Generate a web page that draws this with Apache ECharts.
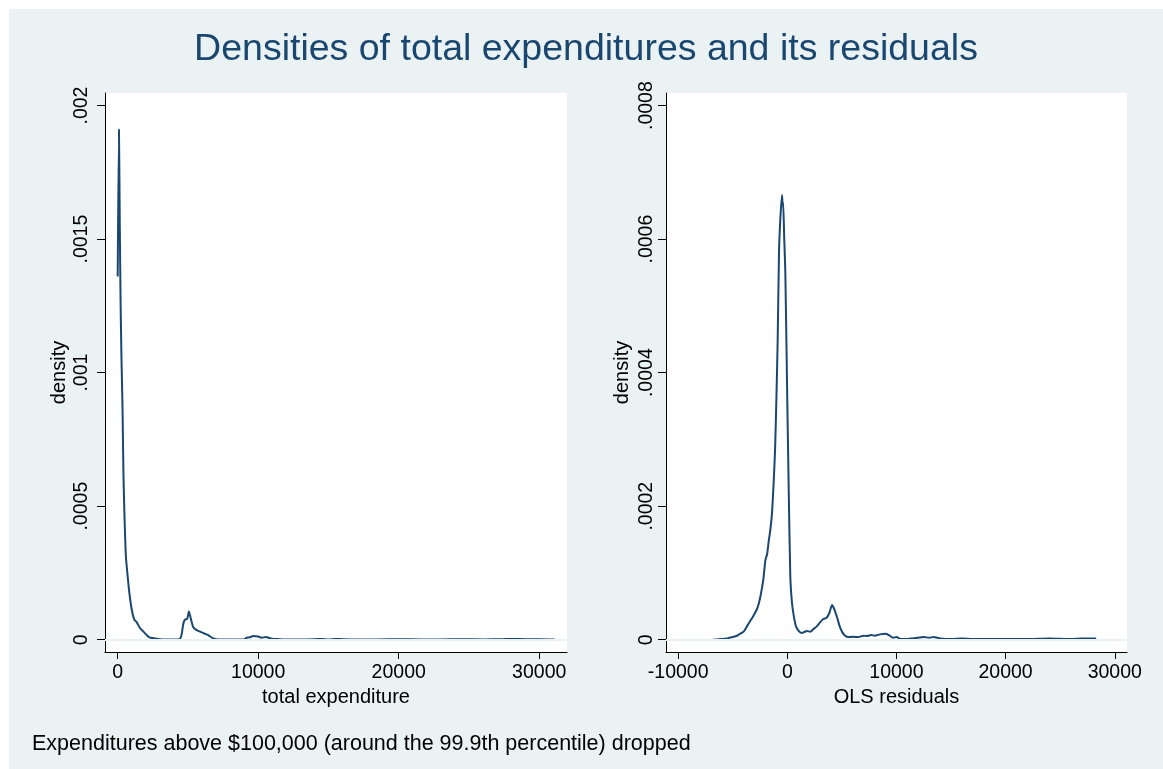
<!DOCTYPE html>
<html>
<head>
<meta charset="utf-8">
<script src="https://cdn.jsdelivr.net/npm/echarts@6/dist/echarts.min.js"></script>
<style>
  html, body { margin: 0; padding: 0; background: #ffffff; }
  #chart { position: absolute; left: 9px; top: 9px; width: 1154px; height: 760px; }
</style>
</head>
<body>
<div id="chart"></div>
<script>
// Kernel density of total expenditure: [expenditure, density]
const expenditureDensity = [
  [0, 0.00136], [90, 0.00191], [150, 0.00155], [210, 0.00125], [270, 0.00105],
  [340, 0.00088], [410, 0.00062], [480, 0.00047], [560, 0.00034], [600, 0.00030],
  [710, 0.000237], [830, 0.000175], [1000, 0.000112], [1180, 0.000075], [1350, 0.000066],
  [1580, 0.000044], [1820, 0.000031], [2050, 0.000018], [2250, 0.000009], [2650, 0.000005],
  [3000, 0.000002], [3500, 0.000001], [4000, 0.000001], [4400, 0.000002], [4550, 0.00002],
  [4670, 0.00006], [4790, 0.000075], [4950, 0.000078], [5070, 0.000106], [5190, 0.000082],
  [5380, 0.000047], [5660, 0.000035], [6090, 0.000025], [6440, 0.000017], [6800, 0.000005],
  [7200, 0.000001], [8000, 0.000001], [9000, 0.000001], [9170, 0.0000075], [9400, 0.000009],
  [9650, 0.000014], [10000, 0.000012], [10240, 0.0000075], [10550, 0.00001], [10950, 0.0000037],
  [11500, 0.000002], [12000, 0.000001], [13000, 0.000001], [14000, 0.000002], [14500, 0.000003],
  [15000, 0.000001], [15500, 0.000003], [16000, 0.000002], [17000, 0.000001], [18500, 0.000001],
  [20000, 0.000002], [21500, 0.000001], [23000, 0.000001], [24500, 0.000002], [26000, 0.000001],
  [27400, 0.000002], [28200, 0.000003], [29000, 0.000002], [30000, 0.000002], [31100, 0.000001]
];

// Kernel density of the OLS residuals: [residual, density]
const residualDensity = [
  [-6800, 0], [-6000, 0.000001], [-5500, 0.000002], [-5000, 0.000004], [-4600, 0.000006],
  [-4300, 0.000009], [-4000, 0.000012], [-3700, 0.00002], [-3400, 0.000028], [-3100, 0.000036],
  [-2800, 0.000045], [-2600, 0.000055], [-2400, 0.00007], [-2200, 0.00009], [-2000, 0.00012],
  [-1850, 0.000128], [-1700, 0.000148], [-1550, 0.000165], [-1400, 0.00019], [-1250, 0.000235],
  [-1120, 0.000285], [-1000, 0.00036], [-880, 0.00045], [-760, 0.00058], [-640, 0.00063],
  [-480, 0.000666], [-420, 0.00065], [-380, 0.000655], [-280, 0.0006], [-180, 0.00055],
  [-30, 0.00039], [120, 0.000234], [275, 0.000095], [430, 0.000055], [600, 0.000035],
  [800, 0.00002], [1100, 0.000012], [1350, 0.00001], [1600, 0.000012], [1800, 0.000013],
  [2100, 0.000012], [2400, 0.000016], [2700, 0.00002], [3000, 0.000026], [3300, 0.000031],
  [3600, 0.000033], [3850, 0.00004], [4100, 0.000052], [4300, 0.000046], [4550, 0.000034],
  [4800, 0.00002], [5050, 0.000011], [5300, 0.000006], [5600, 0.000004], [6000, 0.0000045],
  [6500, 0.000004], [7000, 0.000006], [7300, 0.0000055], [7700, 0.000007], [8000, 0.000006],
  [8500, 0.000008], [9000, 0.000009], [9300, 0.000007], [9700, 0.000003], [10000, 0.000004],
  [10400, 0.000001], [11000, 0.000001], [11500, 0.000002], [12000, 0.000003], [12500, 0.000004],
  [13000, 0.000003], [13400, 0.000004], [14000, 0.000002], [15000, 0.000001], [16000, 0.000002],
  [17000, 0.000001], [18500, 0.000001], [20000, 0.000001], [22000, 0.000001], [24000, 0.000002],
  [26000, 0.000001], [27000, 0.000002], [28300, 0.000002]
];

// Tick values and their labels
const expenditureTicks = [0, 10000, 20000, 30000];
const residualTicks = [-10000, 0, 10000, 20000, 30000];
const leftDensityTicks = [0, 0.0005, 0.001, 0.0015, 0.002];
const leftDensityLabels = ['0', '.0005', '.001', '.0015', '.002'];
const rightDensityTicks = [0, 0.0002, 0.0004, 0.0006, 0.0008];
const rightDensityLabels = ['0', '.0002', '.0004', '.0006', '.0008'];

const titleText = 'Densities of total expenditures and its residuals';
const noteText = 'Expenditures above $100,000 (around the 99.9th percentile) dropped';

const FONT = '"Liberation Sans", Arial, sans-serif';
const NAVY = '#1a476f';
const GRID_LINE = '#eaf2f3';

function labelFor(ticks, labels) {
  return function (v) {
    for (let i = 0; i < ticks.length; i++) {
      if (Math.abs(ticks[i] - v) < 1e-9) return labels[i];
    }
    return '';
  };
}

function xAxisCfg(gridIndex, name, min, max, ticks) {
  return {
    type: 'value', gridIndex, min, max,
    name, nameLocation: 'middle', nameGap: 34,
    nameTextStyle: { fontFamily: FONT, fontSize: 20, color: '#000' },
    axisLine: { show: true, onZero: false, lineStyle: { color: '#000', width: 1 } },
    axisTick: { show: true, length: 7, customValues: ticks, lineStyle: { color: '#000' } },
    axisLabel: {
      customValues: ticks, margin: 11, fontFamily: FONT, fontSize: 19.5, color: '#000',
      formatter: v => String(Math.round(v))
    },
    splitLine: { show: false }
  };
}

function yAxisCfg(gridIndex, min, max, ticks, labels, labelMargin, nameGap) {
  return {
    type: 'value', gridIndex, min, max,
    name: 'density', nameLocation: 'middle', nameRotate: 90, nameGap,
    nameTextStyle: { fontFamily: FONT, fontSize: 20, color: '#000' },
    axisLine: { show: true, onZero: false, lineStyle: { color: '#000', width: 1 } },
    axisTick: { show: true, length: 8, customValues: ticks, lineStyle: { color: '#000' } },
    axisLabel: {
      customValues: ticks, rotate: 90, margin: labelMargin,
      fontFamily: FONT, fontSize: 19.5, color: '#000',
      formatter: labelFor(ticks, labels)
    },
    splitLine: { show: false }
  };
}

function gridLines(values) {
  return {
    silent: true, symbol: 'none', label: { show: false },
    lineStyle: { color: GRID_LINE, width: 1.5, type: 'solid' },
    data: values.map(v => ({ yAxis: v }))
  };
}

const chart = echarts.init(document.getElementById('chart'), null, { renderer: 'canvas' });

chart.setOption({
  backgroundColor: '#eaf2f3',
  animation: false,
  title: {
    text: titleText, left: 'center', top: 17,
    textStyle: { fontFamily: FONT, fontSize: 37.5, fontWeight: 'normal', color: NAVY }
  },
  grid: [
    { left: 96, top: 84, width: 462, height: 559, show: true, backgroundColor: '#fff', borderWidth: 0 },
    { left: 657, top: 84, width: 461, height: 559, show: true, backgroundColor: '#fff', borderWidth: 0 }
  ],
  xAxis: [
    xAxisCfg(0, 'total expenditure', -903, 31977, expenditureTicks),
    xAxisCfg(1, 'OLS residuals', -11113, 31122, residualTicks)
  ],
  yAxis: [
    yAxisCfg(0, -0.000046, 0.002047, leftDensityTicks, leftDensityLabels, 13, 36),
    yAxisCfg(1, -0.0000184, 0.0008189, rightDensityTicks, rightDensityLabels, 9, 34)
  ],
  series: [
    { type: 'line', xAxisIndex: 0, yAxisIndex: 0, data: [], markLine: gridLines(leftDensityTicks), z: 1 },
    { type: 'line', xAxisIndex: 1, yAxisIndex: 1, data: [], markLine: gridLines(rightDensityTicks), z: 1 },
    {
      type: 'line', xAxisIndex: 0, yAxisIndex: 0, data: expenditureDensity, z: 3,
      showSymbol: false, smooth: 0.2, lineStyle: { color: NAVY, width: 2 }
    },
    {
      type: 'line', xAxisIndex: 1, yAxisIndex: 1, data: residualDensity, z: 3,
      showSymbol: false, smooth: 0.2, lineStyle: { color: NAVY, width: 2 }
    }
  ],
  graphic: [
    {
      type: 'text', left: 23, top: 724,
      style: { text: noteText, fontFamily: FONT, fontSize: 21.5, fill: '#000' }
    }
  ]
});
</script>
</body>
</html>
